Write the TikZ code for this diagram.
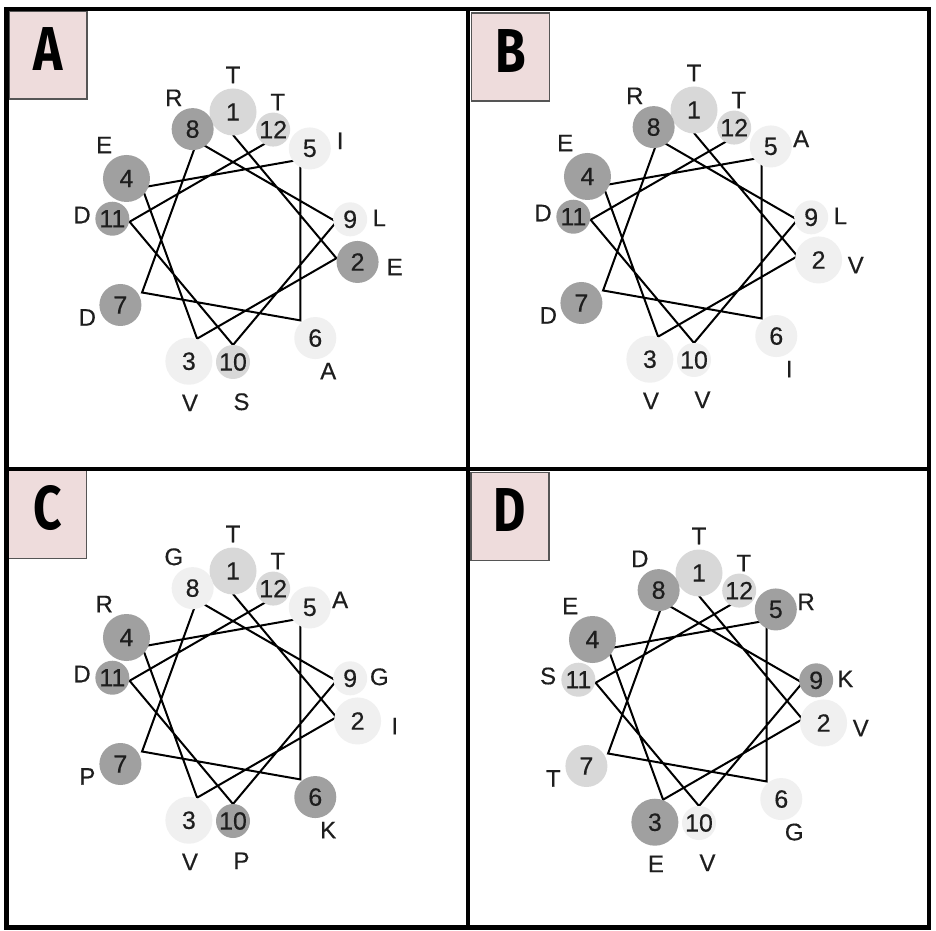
\documentclass[tikz,border=0pt]{standalone}
\usepackage{fontspec}
\setmainfont{Liberation Sans}
\newfontfamily\wheelfont{Liberation Sans}[FakeBold=0.35]
\newfontfamily\panelfont{Fira Sans}
\usetikzlibrary{calc}

\definecolor{charged}{HTML}{A0A0A0}
\definecolor{polar}{HTML}{D8D8D8}
\definecolor{apolar}{HTML}{F0F0F0}
\definecolor{tag_pink}{HTML}{EEDCDC}
\definecolor{tag_border}{HTML}{555555}
\definecolor{ink}{HTML}{1E1E1E}

% distance of each residue circle from the centre
\def\circdist{{128,126.5,129,123,119.5,128,130,118,119,122,122.5,117.5}}
% where the one-letter code sits, per residue (angle, distance from the centre)
\def\labelang{{90,-9.5,-104.8,143.6,42.8,-54,208,112.6,8.6,-87,170.6,72}}
\def\labeldist{{165,164,168.5,160,146,162,165,154,148,162,153,145}}

% #1 panel name, #2 centre, #3 list index/letter/colour/diameter
\newcommand{\wheel}[3]{%
    \coordinate (#1) at #2;
    % helix trace first, the circles cover its corners
    \foreach \idx in {1,...,12} {
        \coordinate (#1_v\idx) at ($(#1)+({190-100*\idx}:105)$);
    }
    \draw[helix] (#1_v1) \foreach \idx in {2,...,12} { -- (#1_v\idx) };
    \foreach \idx/\res/\tone/\diam in {#3} {
        \pgfmathsetmacro\ang{190-100*\idx}
        \pgfmathsetmacro\rad{\circdist[\idx-1]}
        \node[residue, fill=\tone, minimum size=\diam] (#1_\idx) at ($(#1)+(\ang:\rad)$) {\idx};
        \pgfmathsetmacro\la{\labelang[\idx-1]}
        \pgfmathsetmacro\ld{\labeldist[\idx-1]}
        \node[amino] (#1_aa\idx) at ($(#1)+(\la:\ld)$) {\res};
    }
}

\begin{document}
\begin{tikzpicture}[
    x=1pt, y=1pt,
    residue/.style={
            circle,
            inner sep=0pt,
            outer sep=0pt,
            text=ink,
            font=\wheelfont\fontsize{25}{29}\selectfont
        },
    amino/.style={inner sep=0pt, text=ink, font=\wheelfont\fontsize{24}{28}\selectfont},
    helix/.style={line width=2pt, line join=miter},
    frame/.style={line width=4.5pt},
    tag/.style={
            draw=tag_border,
            line width=1.2pt,
            fill=tag_pink,
            minimum width=78pt,
            minimum height=88pt,
            inner sep=0pt
        },
    tag_letter/.style={font=\fontsize{62}{62}\selectfont\panelfont\bfseries},
    ]
    \useasboundingbox[fill=white] (0,0) rectangle (936,930);

    % --- Tags ---
    \node[tag] (tag_A) at (48,875) {};
    \node[tag] (tag_B) at (510.5,873) {};
    \node[tag] (tag_C) at (47.5,415.5) {};
    \node[tag] (tag_D) at (510,413.5) {};
    \node[tag_letter] (letter_A) at ($(tag_A)+(0,6)$) {\scalebox{0.8}[1]{A}};
    \node[tag_letter] (letter_B) at ($(tag_B)+(0,6)$) {\scalebox{0.8}[1]{B}};
    \node[tag_letter] (letter_C) at ($(tag_C)+(0,6)$) {\scalebox{0.8}[1]{C}};
    \node[tag_letter] (letter_D) at ($(tag_D)+(0,6)$) {\scalebox{0.8}[1]{D}};

    % --- Frames ---
    \draw[frame] (6.5,2.5) rectangle (929,921);
    \draw[frame] (468,2.5) -- (468,921);
    \draw[frame] (6.5,461) -- (929,461);

    % --- Wheels ---
    \wheel{A}{(233,690)}{1/T/polar/47, 2/E/charged/42, 3/V/apolar/47, 4/E/charged/47,
        5/I/apolar/42, 6/A/apolar/42, 7/D/charged/42, 8/R/charged/42,
        9/L/apolar/34, 10/S/polar/34, 11/D/charged/34, 12/T/polar/34}
    \wheel{B}{(694,692)}{1/T/polar/47, 2/V/apolar/47, 3/V/apolar/47, 4/E/charged/47,
        5/A/apolar/42, 6/I/apolar/42, 7/D/charged/42, 8/R/charged/42,
        9/L/apolar/34, 10/V/apolar/34, 11/D/charged/34, 12/T/polar/34}
    \wheel{C}{(233,231)}{1/T/polar/47, 2/I/apolar/47, 3/V/apolar/47, 4/R/charged/47,
        5/A/apolar/42, 6/K/charged/42, 7/P/charged/42, 8/G/apolar/42,
        9/G/apolar/34, 10/P/charged/34, 11/D/charged/34, 12/T/polar/34}
    \wheel{D}{(699,229)}{1/T/polar/47, 2/V/apolar/47, 3/E/charged/47, 4/E/charged/47,
        5/R/charged/42, 6/G/apolar/42, 7/T/polar/42, 8/D/charged/42,
        9/K/charged/34, 10/V/apolar/34, 11/S/polar/34, 12/T/polar/34}

\end{tikzpicture}
\end{document}
